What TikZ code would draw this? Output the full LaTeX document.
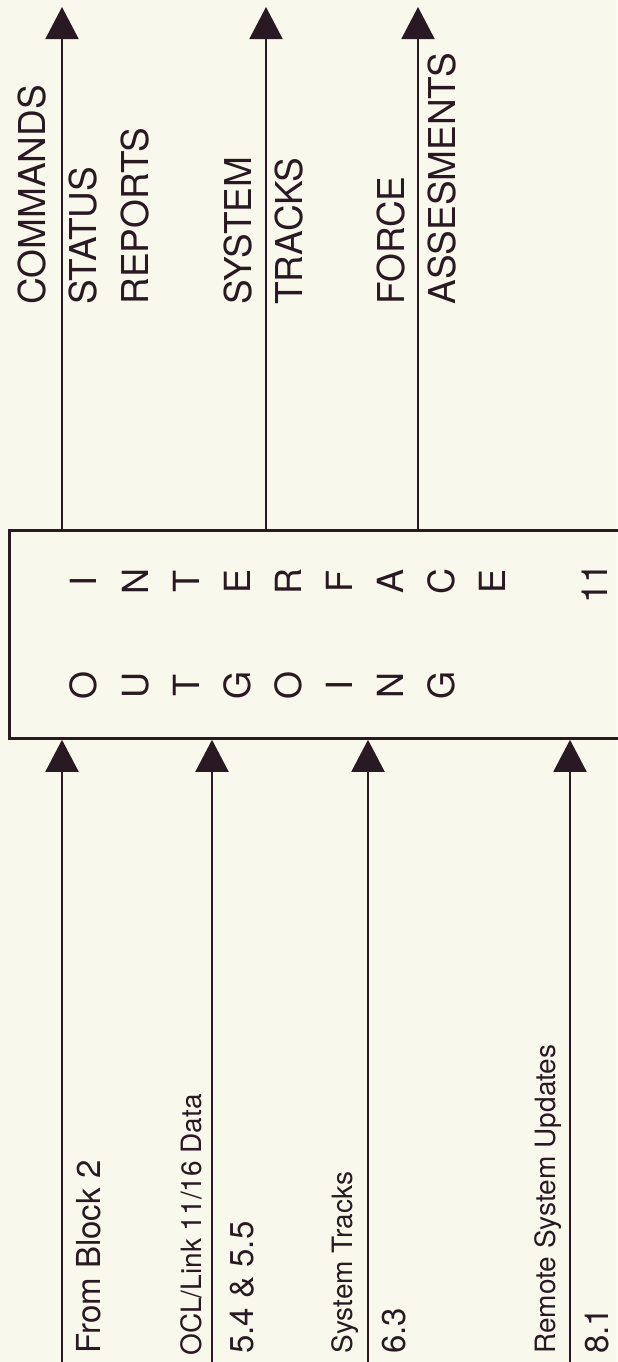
\documentclass[tikz,border=0pt]{standalone}
\usepackage{fontspec}
\setmainfont{TeX Gyre Heros}
\usetikzlibrary{arrows.meta}

\begin{document}
\begin{tikzpicture}[x=0.5pt,y=-0.5pt]
    % Colors and styles
    \definecolor{paper}{RGB}{249,248,236}
    \definecolor{ink}{RGB}{40,25,34}
    \tikzset{
        flow/.style={ink, line width=1pt, -{Triangle[length=16pt,width=16.5pt]}},
        outlbl/.style={rotate=90, anchor=base west, inner sep=0pt, text=ink, font=\fontsize{18.5}{20}\selectfont},
        inbig/.style={rotate=90, anchor=base west, inner sep=0pt, text=ink, font=\fontsize{16.5}{18}\selectfont},
        insmall/.style={rotate=90, anchor=base west, inner sep=0pt, text=ink, font=\fontsize{14}{16}\selectfont},
        boxletter/.style={rotate=90, anchor=base, inner sep=0pt, text=ink, font=\fontsize{18}{20}\selectfont}
    }

    % Page
    \fill[paper] (0,0) rectangle (617,1362);
    \useasboundingbox (0,0) rectangle (617,1362);

    % Block 11
    \node[draw=ink, line width=1.4pt, anchor=north west, inner sep=0pt,
          minimum width=307pt, minimum height=104pt] (iface) at (8,529) {};

    \foreach \ch [count=\i] in {I,N,T,E,R,F,A,C,E}
        \node[boxletter] (in\i) at (46+51*\i,581) {\ch};
    \foreach \ch [count=\i] in {O,U,T,G,O,I,N,G}
        \node[boxletter] (out\i) at (46+51*\i,685) {\ch};
    \node[boxletter] (blocknum) at (607,583) {11};

    % Outputs (up)
    \foreach \x/\n in {62/cmd, 266/trk, 418/frc}
    {
        \coordinate (\n) at (\x,7);
        \draw[flow] (iface.north -| \n) -- (\n);
    }

    \foreach \t/\x in {COMMANDS/46, STATUS/97, REPORTS/148, SYSTEM/251, TRACKS/302, FORCE/404, ASSESMENTS/455}
        \node[outlbl] (lbl-\t) at (\x,305) {\t};

    % Inputs (from below)
    \foreach \x/\n in {62/blk, 212/ocl, 368/sys, 570/rem}
    {
        \coordinate (\n) at (\x,1370);
        \draw[flow] (\n) -- (iface.south -| \n);
    }

    \node[inbig] (from) at (100,1354) {From Block 2};
    \node[insmall] (link) at (201,1356) {OCL/Link 11/16 Data};
    \node[inbig] (src5) at (253,1354) {5.4 \& 5.5};
    \node[insmall] (tracks) at (352,1354) {System Tracks};
    \node[inbig] (src6) at (405,1354) {6.3};
    \node[insmall] (remote) at (555,1354) {Remote System Updates};
    \node[inbig] (src8) at (608,1354) {8.1};

\end{tikzpicture}
\end{document}
